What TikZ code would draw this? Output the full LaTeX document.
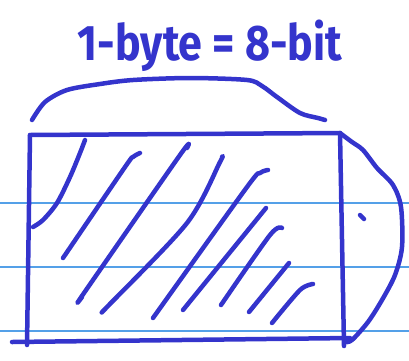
\documentclass[tikz,border=0pt]{standalone}
\usepackage{fontspec}
\setsansfont{Fira Sans}
\definecolor{ink}{RGB}{52,52,204}
\definecolor{ruling}{RGB}{84,160,232}

\begin{document}
\begin{tikzpicture}[x=1pt, y=-1pt,
  pen/.style={draw=ink, line width=4.5pt, line cap=round, line join=round},
  ruleline/.style={draw=ruling, line width=1.1pt},
  title/.style={text=ink, font=\sffamily\bfseries\fontsize{50}{50}\selectfont, xscale=0.86, anchor=base, inner sep=0pt}]
  \useasboundingbox (0,0) rectangle (409,360);
  % --- notebook rules ---
  \foreach \y in {203,267,331} \draw[ruleline] (0,\y) -- (409,\y);
  % --- label and brace ---
  \node[title] (label) at (210,60) {1-byte = 8-bit};
  \draw[pen] plot[smooth] coordinates {(32,120) (45,102) (67,90) (100,84) (133,80) (190,78) (247,80) (262,86) (277,97) (300,113) (318,118) (325,120)};
  % --- byte box ---
  \coordinate (tl) at (30,135);
  \coordinate (tr) at (340,133);
  \coordinate (br) at (344,346);
  \coordinate (bl) at (27,345);
  \draw[pen] (tl) -- (tr);
  \draw[pen] (tl) -- (bl);
  \draw[pen] (tr) -- (br);
  \draw[pen] (12,342) -- (350,338);
  % --- bulge on the right ---
  \draw[pen] plot[smooth] coordinates {(340,133) (352,142) (363,150) (377,168) (393,185) (401,207) (402,247) (395,275) (382,300) (368,322) (352,340) (345,342)};
  \draw[pen] (360,215) -- (364,219);
  % --- hatching ---
  \draw[pen] plot[smooth] coordinates {(85,140) (80,153) (70,177) (57,203) (43,220) (33,227)};
  \draw[pen] plot[smooth] coordinates {(140,153) (133,157) (125,167) (63,258)};
  \draw[pen] plot[smooth] coordinates {(187,148) (180,155) (84,293) (82,297)};
  \draw[pen] plot[smooth] coordinates {(222,157) (220,162) (187,223) (107,307) (105,309)};
  \draw[pen] plot[smooth] coordinates {(268,170) (260,173) (247,187) (153,318)};
  \draw[pen] (266,208) -- (183,310);
  \draw[pen] plot[smooth] coordinates {(282,228) (270,235) (221,305)};
  \draw[pen] (289,263) -- (249,312);
  \draw[pen] plot[smooth] coordinates {(313,284) (300,290) (272,323)};
\end{tikzpicture}
\end{document}
